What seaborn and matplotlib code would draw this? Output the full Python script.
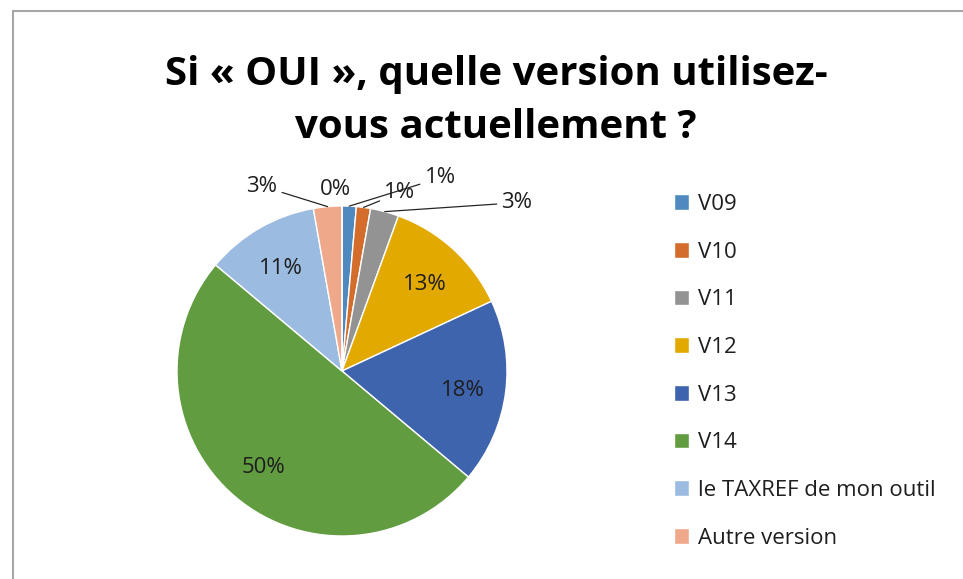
import numpy as np
import matplotlib
matplotlib.use("Agg")
import matplotlib.pyplot as plt
import seaborn as sns
from matplotlib.patches import Rectangle

# Données (nombre de réponses)
versions = ["V09", "V10", "V11", "V12", "V13", "V14",
            "le TAXREF de mon outil", "Autre version", ""]
reponses = [1, 1, 2, 9, 13, 36, 8, 2, 0]
couleurs = ["#4F89BF", "#D46D2B", "#939393", "#E2AA00", "#3E64AE",
            "#629C40", "#9BBBE0", "#F0A88A", "#FFFFFF"]

# petites parts : étiquette hors du camembert (centre du texte, en rayons)
etiq_ext = {0: (0.594, 1.17), 1: (0.35, 1.08), 2: (1.06, 1.02),
            7: (-0.485, 1.12), 8: (-0.04, 1.10)}

sns.set_theme(style="white")
plt.rcParams["font.family"] = ["Open Sans", "DejaVu Sans"]

fig = plt.figure(figsize=(9.63, 5.79), dpi=100)
fig.patch.set_facecolor("white")
fig.patches.append(Rectangle((13 / 963, -0.1), 1.2, (579 - 11) / 579 + 0.1,
                             transform=fig.transFigure, fill=False,
                             edgecolor="#A6A6A6", lw=1.5))

ax = fig.add_axes([177 / 963, (579 - 536) / 579, 330 / 963, 330 / 579])
wedges, _ = ax.pie(reponses, colors=couleurs, startangle=90, counterclock=False,
                   wedgeprops=dict(edgecolor="white", linewidth=1.0),
                   normalize=True)
ax.set_xlim(-1, 1)
ax.set_ylim(-1, 1)
ax.set_aspect("equal")
ax.axis("off")

total = sum(reponses)
for i, w in enumerate(wedges):
    pct = f"{round(100 * reponses[i] / total + 1e-9):.0f}%"
    ang = np.deg2rad((w.theta1 + w.theta2) / 2)
    cx, cy = np.cos(ang), np.sin(ang)
    if i in etiq_ext:
        tx, ty = etiq_ext[i]
        if reponses[i] == 0:
            ax.text(tx, ty, pct, ha="center", va="center", fontsize=16,
                    color="#1E1E1E", clip_on=False)
            continue
        ax.annotate(pct, xy=(cx, cy), xytext=(tx, ty), ha="center", va="center",
                    fontsize=16, color="#1E1E1E", annotation_clip=False,
                    arrowprops=dict(arrowstyle="-", color="#262626", lw=0.9,
                                    shrinkA=1, shrinkB=0))
    else:
        d = 0.74
        ax.text(d * cx, d * cy - 0.02, pct, ha="center", va="center",
                fontsize=16, color="#1E1E1E")

fig.text(0.515, 1 - 75 / 579, "Si « OUI », quelle version utilisez-",
         ha="center", va="center", fontsize=29, fontweight="bold", color="#000000")
fig.text(0.515, 1 - 128 / 579, "vous actuellement ?",
         ha="center", va="center", fontsize=29, fontweight="bold", color="#000000")

n = len([v for v in versions if v])
leg = fig.legend(wedges[:n], versions[:n], loc="upper left",
                 bbox_to_anchor=(665 / 963, 1 - 185 / 579), frameon=False,
                 fontsize=16, handlelength=0.7, handleheight=0.7,
                 handletextpad=0.4, labelspacing=1.2, borderaxespad=0)
for t in leg.get_texts():
    t.set_color("#1E1E1E")

fig.savefig("out.png", dpi=100, facecolor="white")
